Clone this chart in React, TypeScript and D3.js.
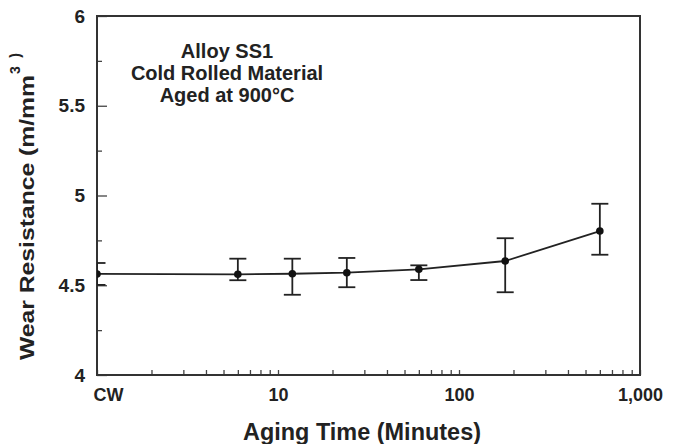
import { useRef, useEffect } from "react";
import * as d3 from "d3";

// aging times in minutes, CW (cold worked) is drawn at 1
const agingLabels = ["CW", "6", "12", "24", "60", "180", "600"];
const agingMinutes = [1, 6, 12, 24, 60, 180, 600];
const wearMean = [4.563, 4.561, 4.564, 4.57, 4.589, 4.635, 4.802];
const wearUpper = [4.624, 4.648, 4.648, 4.652, 4.611, 4.762, 4.954];
const wearLower = [4.502, 4.528, 4.447, 4.489, 4.529, 4.461, 4.67];

const xTickValues = [1, 10, 100, 1000];
const xTickLabels = ["CW", "10", "100", "1,000"];
const yTickValues = [4, 4.5, 5, 5.5, 6];
const yTickLabels = ["4", "4.5", "5", "5.5", "6"];
const yMinorTicks = [4.25, 4.75, 5.25, 5.75];
const noteLines = ["Alloy SS1", "Cold Rolled Material", "Aged at 900°C"];

const FONT = "'Liberation Sans', Arial, Helvetica, sans-serif";
const INK = "#222";

function App() {
  const svgRef = useRef<SVGSVGElement>(null);

  useEffect(() => {
    const w = 680;
    const h = 444;
    const left = 97;
    const right = 640;
    const top = 16;
    const bottom = 375;

    const svg = d3.select(svgRef.current).attr("width", w).attr("height", h);
    svg.selectAll("*").remove();

    const x = d3.scaleLog().domain([1, 1000]).range([left, right]);
    const y = d3.scaleLinear().domain([4, 6]).range([bottom, top]);

    const points = agingMinutes.map((t, i) => ({
      label: agingLabels[i],
      t,
      mean: wearMean[i],
      hi: wearUpper[i],
      lo: wearLower[i],
    }));

    svg
      .append("clipPath")
      .attr("id", "plot-clip")
      .append("rect")
      .attr("x", left)
      .attr("y", top)
      .attr("width", right - left)
      .attr("height", bottom - top);

    // x axis ticks (inside)
    const xAxis = d3
      .axisBottom(x)
      .tickValues(x.ticks())
      .tickSizeInner(-5)
      .tickSizeOuter(0)
      .tickPadding(13)
      .tickFormat((d) => {
        const i = xTickValues.indexOf(+d);
        return i >= 0 ? xTickLabels[i] : "";
      });
    const gx = svg
      .append("g")
      .attr("transform", `translate(0, ${bottom})`)
      .call(xAxis);
    gx.select(".domain").remove();
    gx.selectAll("line").attr("stroke", "#444").attr("stroke-width", 1.3);
    gx.selectAll("text")
      .attr("font-family", FONT)
      .attr("font-weight", "bold")
      .attr("font-size", 18)
      .attr("fill", INK);
    gx.selectAll<SVGTextElement, number>("text")
      .filter((d) => d === 1)
      .attr("text-anchor", "start")
      .attr("x", -4);

    // y axis major + minor ticks (inside)
    const gy = svg
      .append("g")
      .attr("transform", `translate(${left}, 0)`)
      .call(
        d3
          .axisLeft(y)
          .tickValues(yTickValues)
          .tickSizeInner(-10)
          .tickSizeOuter(0)
          .tickPadding(12)
          .tickFormat((d, i) => yTickLabels[i])
      );
    gy.select(".domain").remove();
    gy.selectAll("line").attr("stroke", "#444").attr("stroke-width", 1.3);
    gy.selectAll("text")
      .attr("font-family", FONT)
      .attr("font-weight", "bold")
      .attr("font-size", 19)
      .attr("fill", INK);

    const gyMinor = svg
      .append("g")
      .attr("transform", `translate(${left}, 0)`)
      .call(
        d3
          .axisLeft(y)
          .tickValues(yMinorTicks)
          .tickSizeInner(-5)
          .tickSizeOuter(0)
          .tickFormat(() => "")
      );
    gyMinor.select(".domain").remove();
    gyMinor.selectAll("line").attr("stroke", "#444").attr("stroke-width", 1.3);

    // frame
    svg
      .append("rect")
      .attr("x", left)
      .attr("y", top)
      .attr("width", right - left)
      .attr("height", bottom - top)
      .attr("fill", "none")
      .attr("stroke", "#333")
      .attr("stroke-width", 2);

    const plot = svg.append("g").attr("clip-path", "url(#plot-clip)");

    // error bars
    const cap = 8.5;
    const bars = plot
      .selectAll(".err")
      .data(points)
      .join("g")
      .attr("stroke", INK)
      .attr("stroke-width", 1.8);
    bars
      .append("line")
      .attr("x1", (d) => x(d.t))
      .attr("x2", (d) => x(d.t))
      .attr("y1", (d) => y(d.hi))
      .attr("y2", (d) => y(d.lo));
    bars
      .append("line")
      .attr("x1", (d) => x(d.t) - cap)
      .attr("x2", (d) => x(d.t) + cap)
      .attr("y1", (d) => y(d.hi))
      .attr("y2", (d) => y(d.hi));
    bars
      .append("line")
      .attr("x1", (d) => x(d.t) - cap)
      .attr("x2", (d) => x(d.t) + cap)
      .attr("y1", (d) => y(d.lo))
      .attr("y2", (d) => y(d.lo));

    // line
    const line = d3
      .line<(typeof points)[number]>()
      .x((d) => x(d.t))
      .y((d) => y(d.mean));
    plot
      .append("path")
      .datum(points)
      .attr("d", line)
      .attr("fill", "none")
      .attr("stroke", INK)
      .attr("stroke-width", 1.8);

    plot
      .selectAll(".pt")
      .data(points)
      .join("circle")
      .attr("cx", (d) => x(d.t))
      .attr("cy", (d) => y(d.mean))
      .attr("r", 3.8)
      .attr("fill", "#111");

    // annotation
    svg
      .append("text")
      .attr("font-family", FONT)
      .attr("font-weight", "bold")
      .attr("font-size", 20)
      .attr("fill", INK)
      .attr("text-anchor", "middle")
      .selectAll("tspan")
      .data(noteLines)
      .join("tspan")
      .attr("x", 227)
      .attr("y", (d, i) => 58 + i * 22)
      .text((d) => d);

    // axis titles
    svg
      .append("text")
      .attr("transform", "translate(362, 440)")
      .attr("text-anchor", "middle")
      .attr("font-family", FONT)
      .attr("font-weight", "bold")
      .attr("font-size", 23)
      .attr("fill", INK)
      .attr("textLength", 238)
      .attr("lengthAdjust", "spacingAndGlyphs")
      .text("Aging Time (Minutes)");

    svg
      .append("text")
      .attr("transform", "translate(34, 360) rotate(-90)")
      .attr("font-family", FONT)
      .attr("font-weight", "bold")
      .attr("font-size", 21)
      .attr("fill", INK)
      .attr("textLength", 285)
      .attr("lengthAdjust", "spacingAndGlyphs")
      .text("Wear Resistance (m/mm");
    svg
      .append("text")
      .attr("transform", "translate(20, 74) rotate(-90)")
      .attr("font-family", FONT)
      .attr("font-weight", "bold")
      .attr("font-size", 14)
      .attr("fill", INK)
      .attr("textLength", 21)
      .attr("lengthAdjust", "spacing")
      .text("3)");
  }, []);

  return (
    <svg
      ref={svgRef}
      style={{ position: "absolute", left: 0, top: 0, background: "#fff" }}
    ></svg>
  );
}

export default App;
